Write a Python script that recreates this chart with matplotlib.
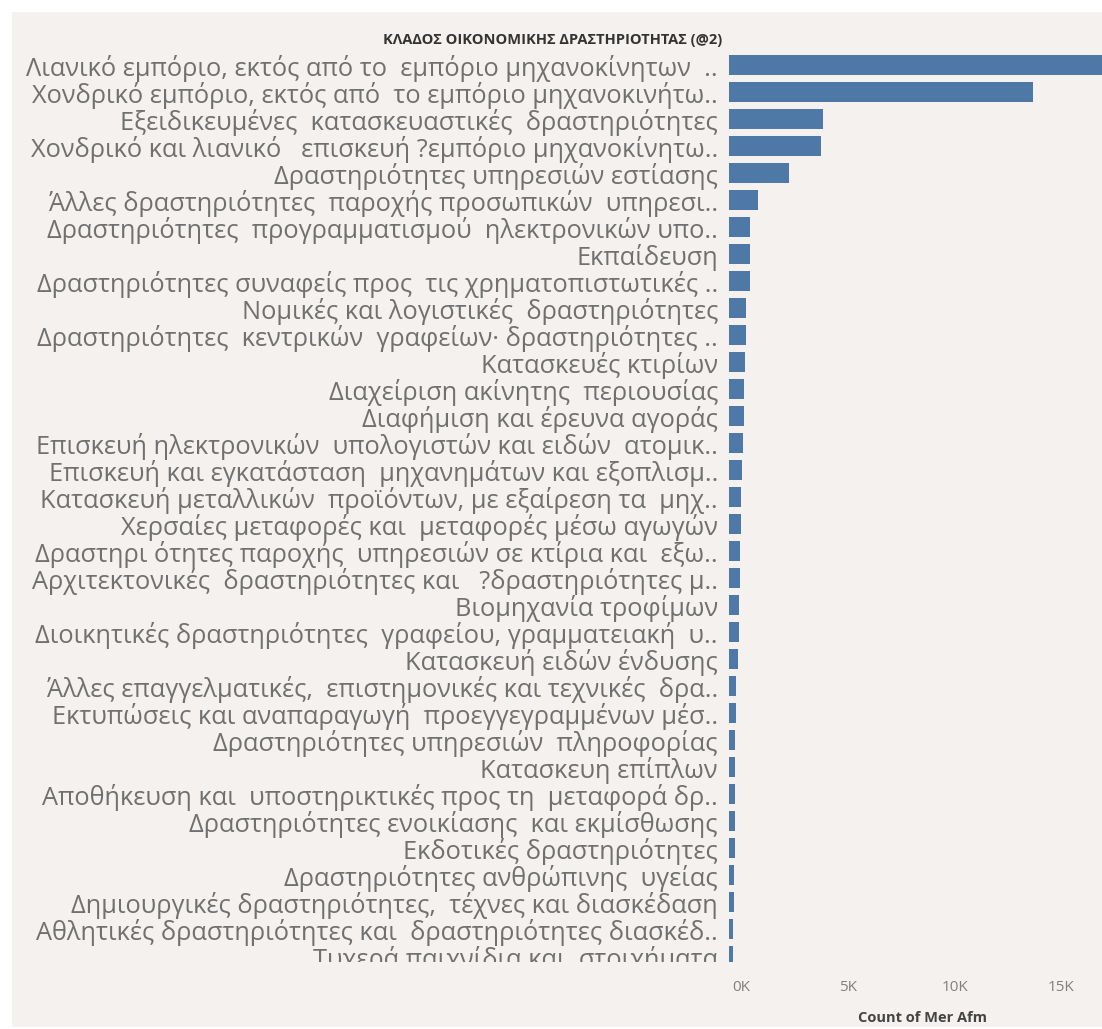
import matplotlib
matplotlib.use("Agg")
import matplotlib.pyplot as plt
from matplotlib.patches import Rectangle
from matplotlib.transforms import Bbox, ScaledTranslation

categories = [
    "Λιανικό εμπόριο, εκτός από το  εμπόριο μηχανοκίνητων  ..",
    "Χονδρικό εμπόριο, εκτός από  το εμπόριο μηχανοκινήτω..",
    "Εξειδικευμένες  κατασκευαστικές  δραστηριότητες",
    "Χονδρικό και λιανικό   επισκευή ?εμπόριο μηχανοκίνητω..",
    "Δραστηριότητες υπηρεσιών εστίασης",
    "Άλλες δραστηριότητες  παροχής προσωπικών  υπηρεσι..",
    "Δραστηριότητες  προγραμματισμού  ηλεκτρονικών υπο..",
    "Εκπαίδευση",
    "Δραστηριότητες συναφείς προς  τις χρηματοπιστωτικές ..",
    "Νομικές και λογιστικές  δραστηριότητες",
    "Δραστηριότητες  κεντρικών  γραφείων· δραστηριότητες ..",
    "Κατασκευές κτιρίων",
    "Διαχείριση ακίνητης  περιουσίας",
    "Διαφήμιση και έρευνα αγοράς",
    "Επισκευή ηλεκτρονικών  υπολογιστών και ειδών  ατομικ..",
    "Επισκευή και εγκατάσταση  μηχανημάτων και εξοπλισμ..",
    "Κατασκευή μεταλλικών  προϊόντων, με εξαίρεση τα  μηχ..",
    "Χερσαίες μεταφορές και  μεταφορές μέσω αγωγών",
    "Δραστηρι ότητες παροχής  υπηρεσιών σε κτίρια και  εξω..",
    "Αρχιτεκτονικές  δραστηριότητες και   ?δραστηριότητες μ..",
    "Βιομηχανία τροφίμων",
    "Διοικητικές δραστηριότητες  γραφείου, γραμματειακή  υ..",
    "Κατασκευή ειδών ένδυσης",
    "Άλλες επαγγελματικές,  επιστημονικές και τεχνικές  δρα..",
    "Εκτυπώσεις και αναπαραγωγή  προεγγεγραμμένων μέσ..",
    "Δραστηριότητες υπηρεσιών  πληροφορίας",
    "Κατασκευη επίπλων",
    "Αποθήκευση και  υποστηρικτικές προς τη  μεταφορά δρ..",
    "Δραστηριότητες ενοικίασης  και εκμίσθωσης",
    "Εκδοτικές δραστηριότητες",
    "Δραστηριότητες ανθρώπινης  υγείας",
    "Δημιουργικές δραστηριότητες,  τέχνες και διασκέδαση",
    "Αθλητικές δραστηριότητες και  δραστηριότητες διασκέδ..",
    "Τυχερά παιχνίδια και  στοιχήματα",
]
counts = [
    17600, 14250, 4400, 4300, 2800, 1360, 980, 980, 970, 790,
    780, 770, 690, 680, 670, 590, 580, 570, 500, 500,
    490, 480, 410, 310, 310, 300, 300, 290, 290, 280,
    220, 220, 210, 200,
]
x_ticks = [0, 5000, 10000, 15000]
x_tick_labels = ["0K", "5K", "10K", "15K"]

W, H, DPI = 1102, 1029, 100
bg = "#f4f1ee"
fig = plt.figure(figsize=(W / DPI, H / DPI), dpi=DPI, facecolor="white")
fig.patches.append(Rectangle((12 / W, 2 / H), 1 - 12 / W, 1 - 14 / H, transform=fig.transFigure,
                             facecolor=bg, edgecolor="none", zorder=-10))

ax_left, ax_right = 729, 1102
ax_top, ax_bottom = 51.5, 962
ax = fig.add_axes([ax_left / W, 1 - ax_bottom / H, (ax_right - ax_left) / W, (ax_bottom - ax_top) / H])
ax.set_facecolor(bg)

y = list(range(len(categories)))
ax.barh(y, counts, height=0.74, color="#4e79a7", edgecolor="none")

px_per_unit = 106.67 / 5000
ax.set_xlim(0, (ax_right - ax_left) / px_per_unit)
ax.set_ylim((ax_bottom - 65) / 27, -0.5)

for s in ax.spines.values():
    s.set_visible(False)

ax.set_yticks(y)
ax.set_yticklabels(categories, fontsize=18.3, color="#707070", family="Open Sans")
ax.tick_params(axis="y", length=0, pad=8)

ax.set_xticks(x_ticks)
ax.set_xticklabels(x_tick_labels, fontsize=11, color="#808080", family="Open Sans")
ax.tick_params(axis="x", length=0, pad=13)
off = ScaledTranslation(9 / 72, 0, fig.dpi_scale_trans)
for lab in ax.get_xticklabels():
    lab.set_transform(lab.get_transform() + off)

ax.set_xlabel("Count of Mer Afm", fontsize=10.5, fontweight="bold", color="#444444", family="Open Sans", labelpad=10)
ax.xaxis.set_label_coords((923 - ax_left) / (ax_right - ax_left), -(1018 - ax_bottom) / (ax_bottom - ax_top))
ax.xaxis.label.set_va("center")

clip = Bbox.from_extents(0, H - ax_bottom, ax_left, H)
for lab in ax.get_yticklabels():
    lab.set_clip_box(clip)
    lab.set_clip_on(True)

fig.text(722 / W, 1 - 40 / H, "ΚΛΑΔΟΣ ΟΙΚΟΝΟΜΙΚΗΣ ΔΡΑΣΤΗΡΙΟΤΗΤΑΣ (@2)", ha="right", va="center",
         fontsize=10.5, fontweight="bold", color="#333333", family="Open Sans")

fig.savefig("out.png", dpi=DPI, facecolor="white")
